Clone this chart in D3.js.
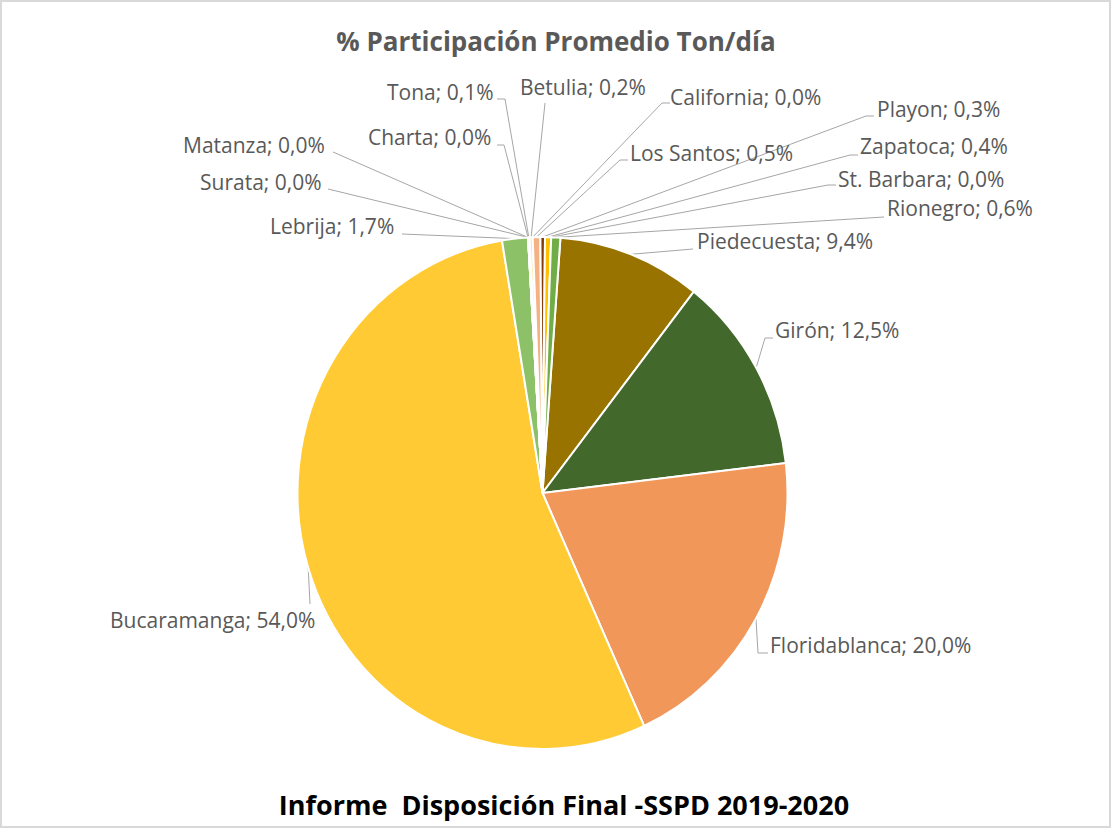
<!DOCTYPE html>
<html>
<head>
<meta charset="utf-8">
<script src="https://cdn.jsdelivr.net/npm/d3@7"></script>
<style>
  body { margin: 0; background: #fff; }
  text { font-family: "Open Sans", sans-serif; }
</style>
</head>
<body>
<div id="chart"></div>
<script>
// data, clockwise from the Piedecuesta slice
const municipios = ["Piedecuesta", "Girón", "Floridablanca", "Bucaramanga", "Lebrija", "Surata", "Matanza", "Charta",
  "Tona", "Betulia", "California", "Los Santos", "Playon", "Zapatoca", "St. Barbara", "Rionegro"];
const participacion = [9.4, 12.5, 20.0, 54.0, 1.7, 0.0, 0.0, 0.0, 0.1, 0.2, 0.0, 0.5, 0.3, 0.4, 0.0, 0.6];
const colores = ["#997300", "#43682B", "#F1975A", "#FFCA33", "#8CC168", "#C55A11", "#BF9000", "#548235",
  "#F8CBAD", "#FFE699", "#A9D18E", "#F4B183", "#843C0C", "#FFC000", "#70AD47", "#70AD47"];
const titulo = "% Participación Promedio Ton/día";
const fuente = "Informe  Disposición Final -SSPD 2019-2020";

// label placement: text position and leader points (from label toward the pie)
const labelPos = {
  "Piedecuesta":   {x: 697, y: 249, a: "start", pts: [[693, 249]]},
  "Girón":         {x: 775, y: 338, a: "start", pts: [[773, 338], [765, 338]]},
  "Floridablanca": {x: 770, y: 653, a: "start", pts: [[768, 653], [758, 653]]},
  "Bucaramanga":   {x: 110, y: 628, a: "start", pts: [[310, 604]]},
  "Lebrija":       {x: 270, y: 234, a: "start", pts: [[402, 234]]},
  "Surata":        {x: 200, y: 190, a: "start", pts: [[328, 189]]},
  "Matanza":       {x: 183, y: 153, a: "start", pts: [[333, 152]]},
  "Charta":        {x: 368, y: 145, a: "start", pts: [[497, 145], [504, 145]]},
  "Tona":          {x: 387, y: 100, a: "start", pts: [[497, 99], [505, 99]]},
  "Betulia":       {x: 520, y: 95,  a: "start", pts: [[545, 103]]},
  "California":    {x: 670, y: 105, a: "start", pts: [[670, 103], [662, 103]]},
  "Los Santos":    {x: 630, y: 161, a: "start", pts: [[628, 160], [620, 160]]},
  "Playon":        {x: 877, y: 117, a: "start", pts: [[874, 116], [866, 116]]},
  "Zapatoca":      {x: 860, y: 154, a: "start", pts: [[858, 155], [850, 155]]},
  "St. Barbara":   {x: 838, y: 187, a: "start", pts: [[836, 185], [828, 185]]},
  "Rionegro":      {x: 887, y: 216, a: "start", pts: [[884, 217]]}
};

const W = 1114, H = 832;
const cx = 542.5, cy = 493, R = 245, ky = 256 / 245;
const startDeg = 4.2;

const svg = d3.select("#chart").append("svg").attr("width", W).attr("height", H);

svg.append("rect").attr("x", 1).attr("y", 1).attr("width", W - 5).attr("height", H - 6)
  .attr("fill", "#fff").attr("stroke", "#D9D9D9").attr("stroke-width", 2);

const data = municipios.map((m, i) => ({name: m, value: participacion[i], color: colores[i]}));

const pie = d3.pie().sort(null).value(d => d.value)
  .startAngle(startDeg * Math.PI / 180)
  .endAngle(startDeg * Math.PI / 180 + 2 * Math.PI);
const arcs = pie(data);
const arc = d3.arc().innerRadius(0).outerRadius(R);

const fmt = d3.formatLocale({decimal: ",", thousands: ".", grouping: [3], currency: ["", ""]}).format(".1f");

// leader lines
const edge = d => {
  const a = (d.startAngle + d.endAngle) / 2;
  return [cx + R * Math.sin(a), cy - R * Math.cos(a) * ky];
};
svg.append("g").selectAll("polyline").data(arcs).enter().append("polyline")
  .attr("points", d => {
    const p = labelPos[d.data.name].pts.concat([edge(d)]);
    return p.map(q => q.join(",")).join(" ");
  })
  .attr("fill", "none").attr("stroke", "#A6A6A6").attr("stroke-width", 1);

// slices
const g = svg.append("g").attr("transform", `translate(${cx},${cy}) scale(1,${ky})`);
g.selectAll("path").data(arcs).enter().append("path")
  .attr("d", arc)
  .attr("fill", d => d.data.color)
  .attr("stroke", "#fff").attr("stroke-width", 2)
  .attr("vector-effect", "non-scaling-stroke");

// labels
svg.append("g").selectAll("text").data(arcs).enter().append("text")
  .attr("x", d => labelPos[d.data.name].x)
  .attr("y", d => labelPos[d.data.name].y)
  .attr("text-anchor", d => labelPos[d.data.name].a)
  .attr("font-size", 21).attr("fill", "#595959")
  .text(d => `${d.data.name}; ${fmt(d.data.value)}%`);

svg.append("text").attr("x", 556).attr("y", 51).attr("text-anchor", "middle")
  .attr("font-size", 26).attr("font-weight", "bold").attr("fill", "#595959")
  .text(titulo);

svg.append("text").attr("x", 564).attr("y", 815).attr("text-anchor", "middle")
  .attr("font-size", 27).attr("font-weight", "bold").attr("fill", "#000")
  .style("white-space", "pre")
  .text(fuente);
</script>
</body>
</html>
